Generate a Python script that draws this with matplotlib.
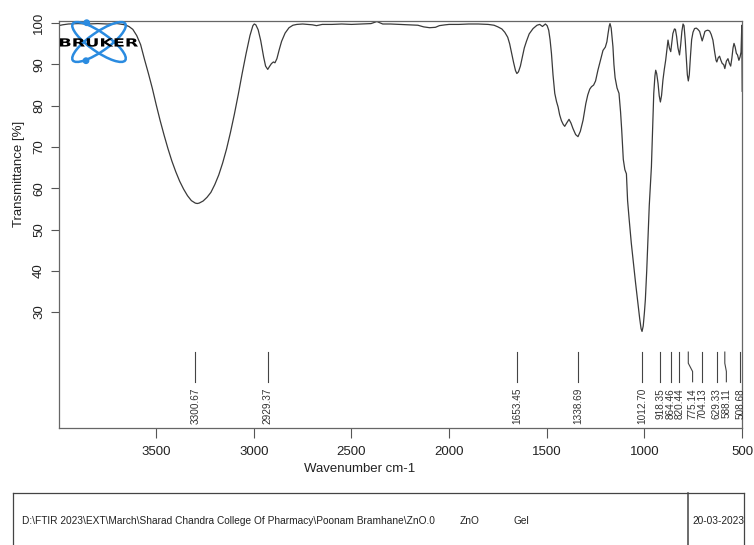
import matplotlib
matplotlib.use("Agg")
import matplotlib.pyplot as plt
from matplotlib.patches import Ellipse, Circle, PathPatch
from matplotlib.textpath import TextPath
from matplotlib.font_manager import FontProperties
from matplotlib.lines import Line2D
from matplotlib import transforms

plt.rcParams['font.family'] = ['Liberation Sans', 'DejaVu Sans']

# FTIR spectrum of the ZnO gel sample (wavenumber in cm-1, transmittance in %)
wavenumber = [
    4000, 3980, 3950, 3900, 3850, 3800, 3750, 3700, 3660, 3640, 3620, 3600,
    3580, 3560, 3540, 3520, 3500, 3480, 3460, 3440, 3420, 3400, 3380, 3360,
    3340, 3320, 3300, 3290, 3280, 3260, 3240, 3220, 3200, 3180, 3160, 3140,
    3120, 3100, 3080, 3060, 3040, 3020, 3005, 2998, 2990, 2978, 2965, 2950,
    2940, 2929, 2920, 2910, 2900, 2892, 2882, 2870, 2858, 2840, 2820, 2800,
    2780, 2750, 2700, 2679, 2650, 2600, 2550, 2500, 2450, 2400, 2370, 2355,
    2340, 2300, 2250, 2200, 2160, 2130, 2100, 2070, 2050, 2020, 2000, 1950,
    1900, 1850, 1800, 1770, 1750, 1730, 1715, 1700, 1690, 1680, 1670, 1660,
    1653, 1645, 1635, 1625, 1615, 1604, 1590, 1570, 1550, 1536, 1522, 1507,
    1498, 1490, 1483, 1476, 1468, 1459, 1450, 1442, 1434, 1425, 1416, 1408,
    1398, 1386, 1376, 1366, 1352, 1340, 1328, 1314, 1300, 1290, 1280, 1271,
    1260, 1250, 1238, 1225, 1212, 1200, 1192, 1186, 1180, 1176, 1170, 1161,
    1156, 1150, 1140, 1130, 1122, 1116, 1108, 1100, 1092, 1086, 1078, 1067,
    1055, 1045, 1033, 1024, 1017, 1012, 1006, 1000, 995, 988, 982, 975,
    970, 964, 958, 952, 946, 942, 937, 930, 924, 918, 912, 905,
    898, 891, 885, 879, 872, 865, 859, 854, 846, 841, 835, 828,
    820, 814, 808, 802, 797, 791, 785, 780, 775, 770, 764, 758,
    751, 743, 734, 726, 717, 710, 704, 697, 690, 683, 675, 666,
    658, 649, 640, 633, 629, 622, 615, 608, 601, 594, 588, 580,
    572, 565, 558, 552, 546, 541, 535, 529, 523, 516, 510, 505,
    502, 501, 500, 499,
]
transmittance = [
    99.4, 99.6, 99.8, 99.9, 99.8, 99.9, 99.8, 99.9, 99.6, 99.2, 98.5, 97.0,
    94.8, 91.2, 87.8, 84.2, 80.2, 76.4, 72.9, 69.6, 66.6, 64.0, 61.7, 59.8,
    58.2, 57.0, 56.4, 56.3, 56.4, 56.9, 57.8, 59.0, 60.9, 63.2, 66.1, 69.5,
    73.5, 77.9, 82.7, 87.8, 92.6, 97.0, 99.4, 99.8, 99.6, 98.4, 95.8, 91.8,
    89.6, 88.8, 89.5, 90.2, 90.6, 90.4, 91.4, 93.6, 95.6, 97.6, 98.9, 99.5,
    99.7, 99.8, 99.6, 99.4, 99.7, 99.7, 99.8, 99.7, 99.8, 99.9, 100.4, 100.1,
    99.8, 99.8, 99.7, 99.6, 99.5, 99.1, 98.9, 99.0, 99.4, 99.6, 99.7, 99.7,
    99.8, 99.8, 99.7, 99.5, 99.1, 98.6, 97.8, 96.6, 95.0, 92.7, 90.5, 88.5,
    87.8, 88.2, 89.6, 91.8, 94.0, 95.6, 97.4, 98.7, 99.5, 99.7, 99.2, 99.8,
    99.4, 98.3, 96.0, 92.7, 87.5, 83.0, 81.0, 79.7, 77.8, 76.4, 75.5, 75.0,
    75.8, 76.7, 75.8, 74.5, 73.0, 72.5, 73.8, 76.5, 80.5, 82.6, 84.0, 84.6,
    85.0, 86.0, 88.6, 91.0, 93.4, 94.2, 95.5, 97.5, 99.3, 99.9, 98.8, 94.3,
    90.0, 86.8, 84.3, 83.0, 78.5, 74.0, 67.0, 64.5, 63.5, 57.0, 52.5, 46.7,
    41.3, 37.0, 32.1, 28.4, 26.0, 25.3, 26.6, 29.8, 33.0, 40.0, 47.5, 55.8,
    60.0, 65.2, 74.0, 83.0, 87.2, 88.6, 87.8, 85.4, 82.4, 80.9, 82.5, 86.2,
    88.8, 91.0, 93.5, 95.9, 94.0, 93.1, 95.5, 97.5, 98.6, 98.5, 96.8, 94.0,
    92.3, 94.8, 98.0, 99.8, 99.4, 96.0, 91.5, 87.5, 86.0, 87.5, 92.0, 96.0,
    97.8, 98.7, 98.8, 98.5, 98.0, 96.8, 95.7, 96.8, 98.0, 98.2, 98.3, 98.1,
    97.3, 95.9, 93.0, 91.0, 90.6, 91.6, 92.0, 91.0, 90.2, 90.0, 89.0, 90.8,
    91.4, 90.3, 89.6, 91.5, 94.0, 95.1, 94.2, 92.7, 92.3, 91.0, 91.8, 93.0,
    98.0, 99.5, 92.0, 83.5,
]

# Picked peaks
peak_positions = [3300.67, 2929.37, 1653.45, 1338.69, 1012.70, 918.35,
                  864.46, 820.44, 775.14, 704.13, 629.33, 588.11, 508.68]
peak_labels = ["3300.67", "2929.37", "1653.45", "1338.69", "1012.70", "918.35",
               "864.46", "820.44", "775.14", "704.13", "629.33", "588.11", "508.68"]

x_ticks = [3500, 3000, 2500, 2000, 1500, 1000, 500]
y_ticks = [30, 40, 50, 60, 70, 80, 90, 100]

footer_path = r"D:\FTIR 2023\EXT\March\Sharad Chandra College Of Pharmacy\Poonam Bramhane\ZnO.0"
footer_sample = "ZnO"
footer_form = "Gel"
footer_date = "20-03-2023"

W, H = 754, 545
fig = plt.figure(figsize=(W / 100, H / 100), dpi=100)
ax = fig.add_axes([59 / W, 1 - 428 / H, (742.4 - 59) / W, (428 - 20.7) / H])

ax.plot(wavenumber, transmittance, color='#3a3a3a', lw=0.9)
ax.set_xlim(3998, 498)
ax.set_ylim(1.9, 100.6)

ax.set_xticks(x_ticks)
ax.set_yticks(y_ticks)
ax.tick_params(axis='x', length=7, width=0.8, color='#555555', pad=6,
               labelsize=9.5, labelcolor='#222222')
ax.tick_params(axis='y', length=6, width=0.8, color='#555555', pad=4,
               labelsize=9.5, labelcolor='#222222', labelrotation=90)
for lab in ax.get_yticklabels():
    lab.set_va('center')
for s in ax.spines.values():
    s.set_color('#666666')
    s.set_linewidth(0.9)

ax.set_xlabel("Wavenumber cm-1", fontsize=9.5, color='#222222')
ax.xaxis.set_label_coords(0.44, -0.086)
ax.set_ylabel("Transmittance [%]", fontsize=9.5, color='#222222')
ax.yaxis.set_label_coords(-0.050, 0.623)

# Peak markers with labels beneath; crowded ones get a small jog
label_shift = {"775.14": -22.0, "588.11": -8.0}
y_top, y_jog1, y_jog2, y_bot, y_text = 20.3, 17.6, 15.6, 13.1, 11.6
for pos, lab in zip(peak_positions, peak_labels):
    lx = pos + label_shift.get(lab, 0.0)
    if lx != pos:
        ax.plot([pos, pos, lx, lx], [y_top, y_jog1, y_jog2, y_bot],
                color='#444444', lw=0.8)
    else:
        ax.plot([pos, pos], [y_top, y_bot], color='#444444', lw=0.8)
    ax.text(lx, y_text, lab, rotation=90, ha='center', va='top',
            fontsize=7.2, color='#333333')

# Bruker logo
ink = fig.dpi_scale_trans
cx, cy = 0.99, (H - 42) / 100
for ang in (35, -35):
    fig.add_artist(Ellipse((cx, cy), 0.64, 0.19, angle=ang, fill=False,
                           ec='#2a8be0', lw=1.8, transform=ink, zorder=5))
for dx, dy in ((86.7, 22.7), (86.0, 60.7)):
    fig.add_artist(Circle((dx / 100, (H - dy) / 100), 0.027, color='#2a8be0',
                          transform=ink, zorder=5))
tp = TextPath((0, 0), "BRUKER", size=1,
              prop=FontProperties(family='DejaVu Sans', weight='bold'))
ext = tp.get_extents()
box_x, box_y, box_w, box_h = 0.60, (H - 46.7) / 100, 0.78, 0.084
tr = (transforms.Affine2D()
      .translate(-ext.x0, -ext.y0)
      .scale(box_w / ext.width, box_h / ext.height)
      .translate(box_x, box_y)) + ink
fig.add_artist(PathPatch(tp, transform=tr, fc='black', ec='none', zorder=6))

# Footer information box
def fx(px):
    return px / W

def fy(py):
    return 1 - py / H

lc = '#444444'
fig.add_artist(Line2D([fx(13), fx(744)], [fy(493), fy(493)], color=lc, lw=0.9))
fig.add_artist(Line2D([fx(13), fx(13)], [fy(493), 0], color=lc, lw=0.9))
fig.add_artist(Line2D([fx(688), fx(688)], [fy(493), 0], color=lc, lw=1.1))
fig.add_artist(Line2D([fx(744), fx(744)], [fy(493), 0], color=lc, lw=0.9))
fs = 7.3
fig.text(fx(22), fy(521), footer_path, fontsize=fs, va='center', color='#222222')
fig.text(fx(460), fy(521), footer_sample, fontsize=fs, va='center', color='#222222')
fig.text(fx(513), fy(521), footer_form, fontsize=fs, va='center', color='#222222')
fig.text(fx(692), fy(521), footer_date, fontsize=fs, va='center', color='#222222')

fig.savefig("out.png", dpi=100, facecolor='white')
